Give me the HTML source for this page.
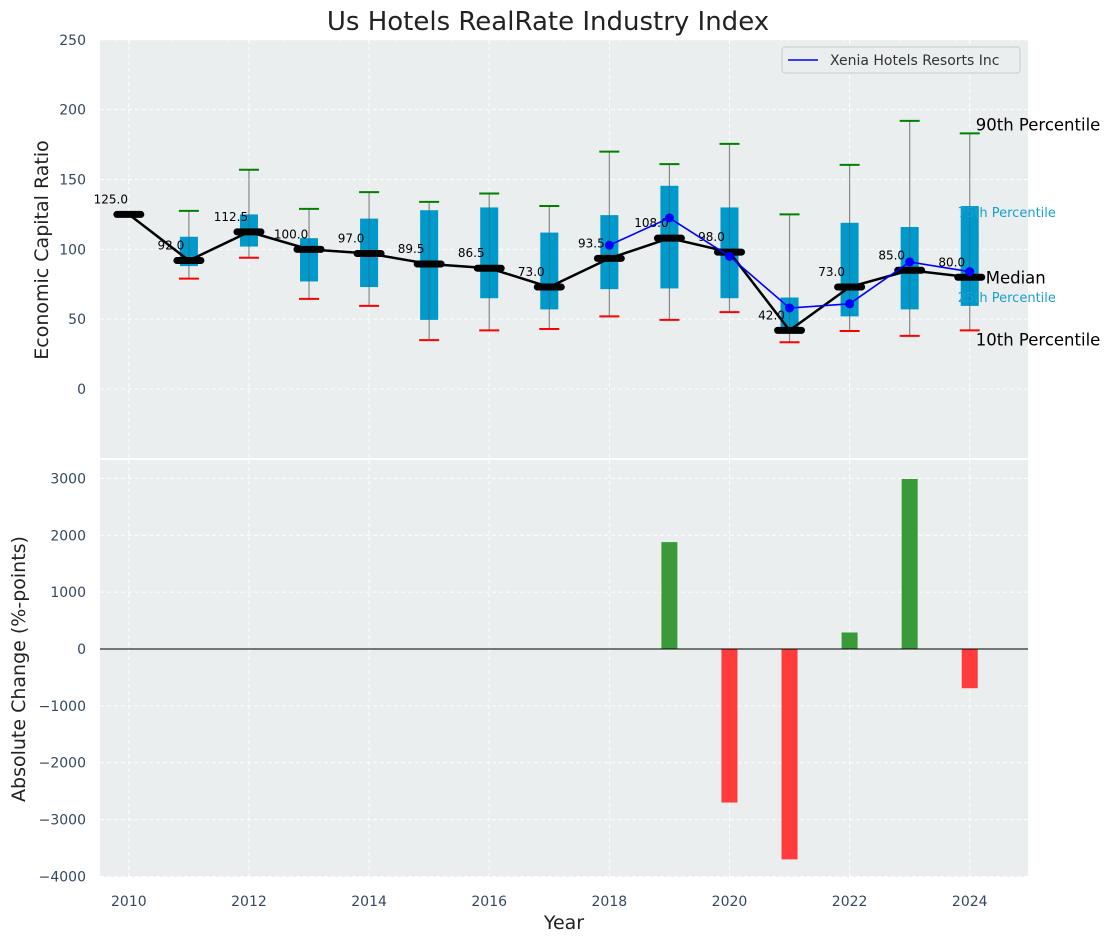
<!DOCTYPE html>
<html><head><meta charset="utf-8"><style>
body{margin:0;background:#fff;}
svg text{font-family:"DejaVu Sans","Liberation Sans",sans-serif;}
</style></head><body>
<svg id="c" width="1111" height="942" xmlns="http://www.w3.org/2000/svg"></svg>
<script>
const years=[2010,2011,2012,2013,2014,2015,2016,2017,2018,2019,2020,2021,2022,2023,2024];
const medians=[125,92,112.5,100,97,89.5,86.5,73,93.5,108,98,42,73,85,80];
const q1=[null,88,102,77,73,49.5,65,57,71.5,72,65,40.5,52,57,59.5];
const q3=[null,109,125,108,122,128,130,112,124.5,145.5,130,65.5,119,116,131];
const p10=[null,79,94,64.5,59.5,35,42,43,52,49.5,55,33.5,41.5,38,42];
const p90=[null,127.5,157,129,141,134,140,131,170,161,175.5,125,160.5,192,183];
const companyYears=[2018,2019,2020,2021,2022,2023,2024];
const companyVals=[103,122.5,95,58,61,91,84];
const changeYears=[2019,2020,2021,2022,2023,2024];
const changeVals=[1880,-2700,-3700,290,2990,-690];
const topTicks=[0,50,100,150,200,250];
const botTicks=[-4000,-3000,-2000,-1000,0,1000,2000,3000];
const xTicks=[2010,2012,2014,2016,2018,2020,2022,2024];

const svg=document.getElementById('c');
const NS='http://www.w3.org/2000/svg';
function mk(t,a,txt){const e=document.createElementNS(NS,t);for(const k in a)e.setAttribute(k,a[k]);if(txt!==undefined)e.textContent=txt;svg.appendChild(e);return e;}
const fmt=v=>String(v).replace('-','\u2212');
const L=100,R=1028;
const X=v=>L+(v-2009.52)*(R-L)/(2024.97-2009.52);
const YT=v=>389-v*1.3966;
const YB=v=>649-v*0.05686;
let e;
e=mk('rect',{x:L,y:40,width:R-L,height:418,fill:'#eaeeee'});

e=mk('rect',{x:L,y:460,width:R-L,height:417,fill:'#eaeeee'});

for(const t of topTicks){mk('line',{x1:L,x2:R,y1:YT(t),y2:YT(t),stroke:'#fff','stroke-dasharray':'4,3'});
 e=mk('text',{x:86,y:YT(t)+5,'text-anchor':'end','font-size':14,fill:'#34495e'},fmt(t));
 }
for(const t of botTicks){mk('line',{x1:L,x2:R,y1:YB(t),y2:YB(t),stroke:'#fff','stroke-dasharray':'4,3'});
 e=mk('text',{x:86,y:YB(t)+5,'text-anchor':'end','font-size':14,fill:'#34495e'},fmt(t));
 }
for(const t of xTicks){mk('line',{x1:X(t),x2:X(t),y1:40,y2:458,stroke:'#fff','stroke-dasharray':'4,3'});
 mk('line',{x1:X(t),x2:X(t),y1:460,y2:877,stroke:'#fff','stroke-dasharray':'4,3'});
 e=mk('text',{x:X(t),y:906,'text-anchor':'middle','font-size':14,fill:'#34495e'},t);
 }
const bw=(R-L)/15.45*0.3;
years.forEach((y,i)=>{
 if(p90[i]==null)return;
 const x=X(y);
 e=mk('line',{x1:x,x2:x,y1:YT(p90[i]),y2:YT(p10[i]),stroke:'#888','stroke-width':1.2});
 
 e=mk('rect',{x:x-bw/2,y:YT(q3[i]),width:bw,height:YT(q1[i])-YT(q3[i]),fill:'#0099cc'});
 
 mk('line',{x1:x,x2:x,y1:YT(q3[i]),y2:YT(q1[i]),stroke:'#555','stroke-width':1,opacity:0.5});
 e=mk('line',{x1:x-10,x2:x+10,y1:YT(p90[i]),y2:YT(p90[i]),stroke:'green','stroke-width':2});
 
 e=mk('line',{x1:x-10,x2:x+10,y1:YT(p10[i]),y2:YT(p10[i]),stroke:'red','stroke-width':2});
 
});
e=mk('polyline',{points:years.map((y,i)=>X(y)+','+YT(medians[i])).join(' '),fill:'none',stroke:'#000','stroke-width':2.5});

years.forEach((y,i)=>{
 e=mk('line',{x1:X(y)-12,x2:X(y)+12,y1:YT(medians[i]),y2:YT(medians[i]),stroke:'#000','stroke-width':7,'stroke-linecap':'round'});
 
 e=mk('text',{x:X(y)-18,y:YT(medians[i])-11,'text-anchor':'middle','font-size':12,fill:'#000'},medians[i].toFixed(1));
 
});
e=mk('polyline',{points:companyYears.map((y,i)=>X(y)+','+YT(companyVals[i])).join(' '),fill:'none',stroke:'blue','stroke-width':1.6});

companyYears.forEach((y,i)=>{e=mk('circle',{cx:X(y),cy:YT(companyVals[i]),r:4.5,fill:'blue'});
 });
const li=14,lx=X(2024)+6;
e=mk('text',{x:lx,y:YT(p90[li])-3,'font-size':16.5,fill:'#000'},'90th Percentile');
e=mk('text',{x:X(2024)-12,y:YT(q3[li])+11,'font-size':13,fill:'#1a9fd0'},'75th Percentile');
e=mk('text',{x:X(2024)+16,y:YT(medians[li])+6,'font-size':16.5,fill:'#000'},'Median');
e=mk('text',{x:X(2024)-12,y:YT(q1[li])-4,'font-size':13,fill:'#1a9fd0'},'25th Percentile');
e=mk('text',{x:lx,y:YT(p10[li])+15,'font-size':16.5,fill:'#000'},'10th Percentile');
e=mk('rect',{x:782,y:47,width:238,height:26,fill:'#eaeeee',stroke:'#ccc',rx:3});
mk('line',{x1:788,x2:818,y1:60,y2:60,stroke:'blue','stroke-width':1.6});
e=mk('text',{x:830,y:65,'font-size':14,fill:'#333'},'Xenia Hotels Resorts Inc');
const barW=16;
changeYears.forEach((y,i)=>{const v=changeVals[i];
 e=mk('rect',{x:X(y)-barW/2,y:Math.min(YB(v),YB(0)),width:barW,height:Math.abs(YB(v)-YB(0)),fill:v>=0?'#3a9a3a':'#ff3b3b'});
 });
mk('line',{x1:L,x2:R,y1:YB(0),y2:YB(0),stroke:'#000','stroke-width':1});
e=mk('text',{x:548,y:30,'text-anchor':'middle','font-size':26,fill:'#222'},'Us Hotels RealRate Industry Index');
e=mk('text',{x:48,y:250,'text-anchor':'middle','font-size':19,fill:'#222',transform:'rotate(-90 48 250)'},'Economic Capital Ratio');
e=mk('text',{x:25,y:669,'text-anchor':'middle','font-size':19,fill:'#222',transform:'rotate(-90 25 669)'},'Absolute Change (%-points)');
e=mk('text',{x:564,y:929,'text-anchor':'middle','font-size':19,fill:'#222'},'Year');
</script>
</body></html>
